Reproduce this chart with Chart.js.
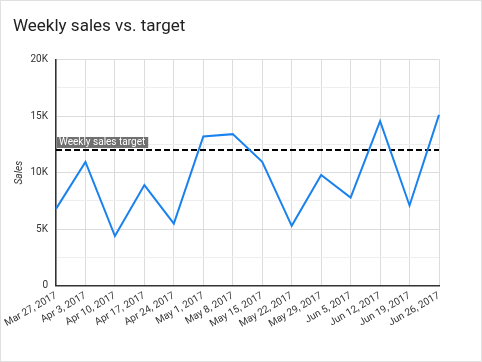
<!DOCTYPE html>
<html>
<head>
<meta charset="utf-8">
<script src="https://cdn.jsdelivr.net/npm/chart.js@4.4.1/dist/chart.umd.min.js"></script>
<style>
  html, body { margin: 0; padding: 0; background: #fff; }
  #wrap {
    width: 482px; height: 362px; box-sizing: border-box;
    border: 1px solid #e0e0e0; position: relative;
  }
  canvas { display: block; }
</style>
</head>
<body>
<div id="wrap"><canvas id="salesChart" width="480" height="360"></canvas></div>
<script>
// weekly figures
const weeks = ["Mar 27, 2017", "Apr 3, 2017", "Apr 10, 2017", "Apr 17, 2017", "Apr 24, 2017",
  "May 1, 2017", "May 8, 2017", "May 15, 2017", "May 22, 2017", "May 29, 2017",
  "Jun 5, 2017", "Jun 12, 2017", "Jun 19, 2017", "Jun 26, 2017"];
const sales = [6800, 10950, 4400, 8900, 5500, 13200, 13400, 10950, 5300, 9800, 7800, 14550, 7100, 15100];
const salesTarget = 12000;
const targetLabel = "Weekly sales target";
const yTicks = [0, 5000, 10000, 15000, 20000];
const yTickText = ["0", "5K", "10K", "15K", "20K"];

// little grey tag sitting on top of the target line
const targetTag = {
  id: "targetTag",
  afterDatasetsDraw(chart) {
    const { ctx, chartArea, scales } = chart;
    const y = scales.y.getPixelForValue(salesTarget);
    ctx.save();
    ctx.font = "10px Roboto";
    const w = ctx.measureText(targetLabel).width + 5;
    ctx.fillStyle = "rgba(97,97,97,0.9)";
    ctx.fillRect(chartArea.left + 1, y - 13, w, 11);
    ctx.fillStyle = "#fff";
    ctx.textBaseline = "middle";
    ctx.fillText(targetLabel, chartArea.left + 3, y - 7.5);
    ctx.restore();
  }
};

new Chart(document.getElementById("salesChart"), {
  type: "line",
  data: {
    labels: weeks,
    datasets: [
      {
        label: "Sales",
        data: sales,
        borderColor: "#1a82ee",
        borderWidth: 2,
        pointRadius: 0,
        tension: 0
      },
      {
        label: targetLabel,
        data: weeks.map(() => salesTarget),
        borderColor: "#000",
        borderWidth: 2,
        borderDash: [6, 3],
        pointRadius: 0
      }
    ]
  },
  options: {
    responsive: false,
    animation: false,
    layout: { padding: { left: 12, right: 42, top: 0, bottom: 27 } },
    plugins: {
      legend: { display: false },
      tooltip: { enabled: false },
      title: {
        display: true,
        text: "Weekly sales vs. target",
        align: "start",
        color: "#212121",
        font: { family: "Roboto", size: 17, weight: "normal" },
        padding: { top: 16, bottom: 22 }
      }
    },
    scales: {
      x: {
        offset: false,
        grid: { color: "#dcdcdc", drawTicks: false },
        border: { color: "#333", width: 1.5 },
        ticks: {
          autoSkip: false,
          maxRotation: 30,
          minRotation: 30,
          padding: 4,
          color: "#333",
          font: { family: "Roboto", size: 10 }
        }
      },
      y: {
        min: 0,
        max: 20000,
        afterBuildTicks(scale) {
          const t = [];
          for (let v = 0; v <= 20000; v += 2500) t.push({ value: v });
          scale.ticks = t;
        },
        afterFit(scale) { scale.width = 43; },
        grid: {
          drawTicks: false,
          color: (c) => (yTicks.includes(c.tick.value) ? "#dcdcdc" : "#eeeeee")
        },
        border: { color: "#333", width: 1.5 },
        ticks: {
          padding: 8,
          color: "#333",
          font: { family: "Roboto", size: 10 },
          callback: (v) => {
            const i = yTicks.indexOf(v);
            return i >= 0 ? yTickText[i] : "";
          }
        },
        title: {
          display: true,
          text: "Sales",
          color: "#333",
          font: { family: "Roboto", size: 10, style: "italic" },
          padding: 0
        }
      }
    }
  },
  plugins: [targetTag]
});
</script>
</body>
</html>
